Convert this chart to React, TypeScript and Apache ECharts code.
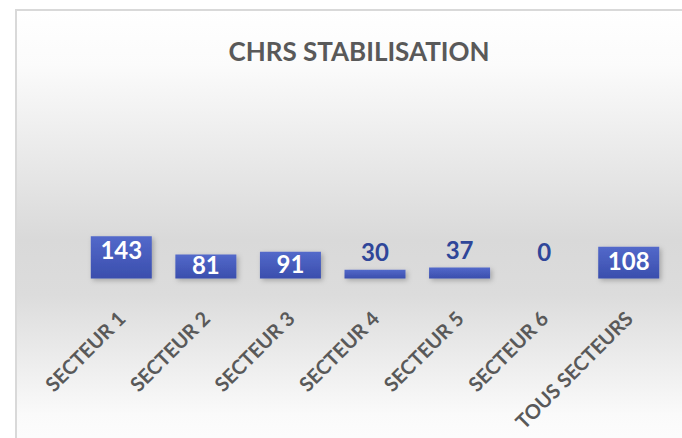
import React, { useEffect, useRef } from "react";
import * as echarts from "echarts";

const categories = ["SECTEUR 1", "SECTEUR 2", "SECTEUR 3", "SECTEUR 4", "SECTEUR 5", "SECTEUR 6", "TOUS SECTEURS"];
const values = [143, 81, 91, 30, 37, 0, 108];
const titleText = "CHRS STABILISATION";

export default function App() {
  const ref = useRef<HTMLDivElement>(null);
  useEffect(() => {
    document.body.style.margin = "0";
    const chart = echarts.init(ref.current!, null, { renderer: "svg" });
    const labelFor = (v: number) => {
      if (v >= 120) return { show: true, position: "insideTop", distance: 1, color: "#FFFFFF" };
      if (v >= 60) return { show: true, position: "inside", offset: [0, -2], color: "#FFFFFF" };
      if (v === 0) return { show: true, position: "top", distance: 15, color: "#2F4699" };
      return { show: true, position: "top", distance: 6, color: "#2F4699" };
    };
    chart.setOption({
      animation: false,
      graphic: [
        {
          type: "rect",
          z: -10,
          silent: true,
          shape: { x: 16, y: 10, width: 700, height: 460 },
          style: {
            fill: new echarts.graphic.LinearGradient(0, 0, 0, 1, [
              { offset: 0, color: "#FFFFFF" },
              { offset: 0.12, color: "#FBFBFB" },
              { offset: 0.5, color: "#D9D9D9" },
              { offset: 0.62, color: "#DCDCDC" },
              { offset: 0.88, color: "#FAFAFA" },
              { offset: 1, color: "#FFFFFF" },
            ]),
            stroke: "#D9D9D9",
            lineWidth: 2,
          },
        },
      ],
      title: {
        text: titleText,
        left: 354,
        top: 33,
        textAlign: "center",
        textStyle: { fontFamily: "Lato", fontWeight: "bold", fontSize: 26, color: "#595959" },
      },
      grid: { left: 79, right: 11, top: 72, bottom: 159.5 },
      xAxis: {
        type: "category",
        data: categories,
        axisLine: { show: false },
        axisTick: { show: false },
        axisLabel: {
          interval: 0,
          rotate: 45,
          margin: 36,
          fontFamily: "Lato",
          fontWeight: "bold",
          fontSize: 20,
          color: "#595959",
        },
      },
      yAxis: { type: "value", min: 0, max: 700, show: false, splitLine: { show: false } },
      series: [
        {
          type: "bar",
          barWidth: 61,
          data: values.map((v) => ({ value: v, label: labelFor(v) })),
          label: { fontFamily: "Lato", fontWeight: "bold", fontSize: 24 },
          itemStyle: {
            color: new echarts.graphic.LinearGradient(0, 0, 0, 1, [
              { offset: 0, color: "#5369CA" },
              { offset: 1, color: "#3A4EAD" },
            ]),
            shadowBlur: 5,
            shadowColor: "rgba(0,0,0,0.25)",
            shadowOffsetX: 2,
            shadowOffsetY: 2,
          },
        },
      ],
    });
    return () => chart.dispose();
  }, []);
  return <div ref={ref} style={{ width: 682, height: 438 }} />;
}
